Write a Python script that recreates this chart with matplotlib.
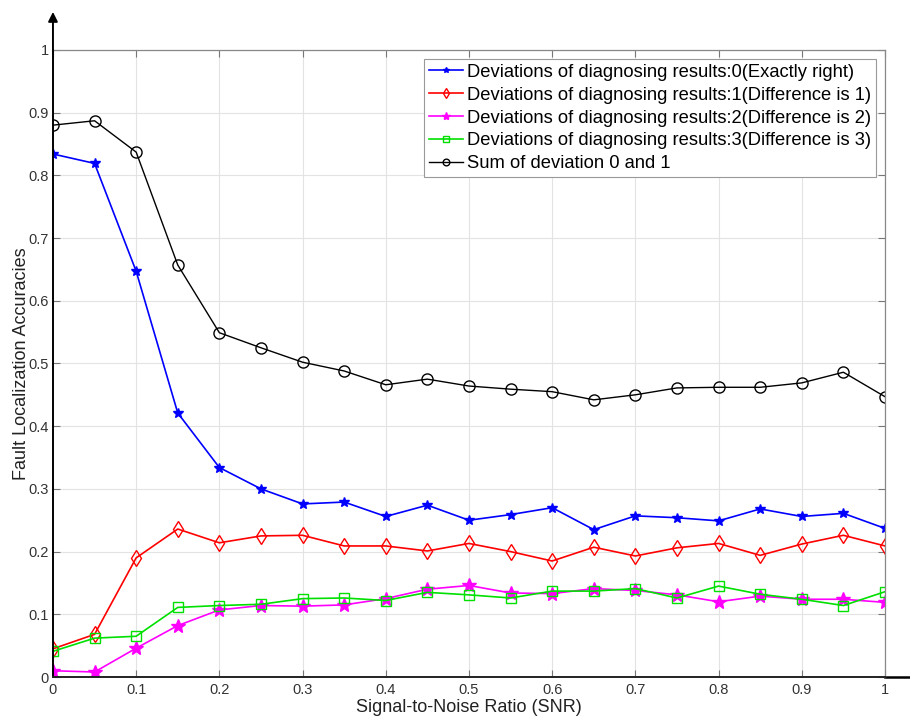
import matplotlib.pyplot as plt

plt.rcParams['font.family'] = ['Liberation Sans', 'DejaVu Sans']

snr = [0, 0.05, 0.1, 0.15, 0.2, 0.25, 0.3, 0.35, 0.4, 0.45, 0.5,
       0.55, 0.6, 0.65, 0.7, 0.75, 0.8, 0.85, 0.9, 0.95, 1.0]
dev0 = [0.834, 0.819, 0.647, 0.421, 0.334, 0.300, 0.276, 0.279, 0.256, 0.274, 0.250,
        0.259, 0.270, 0.235, 0.257, 0.254, 0.249, 0.268, 0.256, 0.261, 0.237]
dev1 = [0.045, 0.068, 0.190, 0.236, 0.214, 0.225, 0.226, 0.209, 0.209, 0.201, 0.213,
        0.200, 0.185, 0.207, 0.193, 0.206, 0.213, 0.194, 0.212, 0.226, 0.209]
dev2 = [0.010, 0.008, 0.046, 0.082, 0.107, 0.114, 0.113, 0.115, 0.125, 0.140, 0.146,
        0.134, 0.133, 0.141, 0.138, 0.131, 0.120, 0.129, 0.124, 0.124, 0.119]
dev3 = [0.041, 0.062, 0.065, 0.111, 0.114, 0.116, 0.125, 0.126, 0.122, 0.135, 0.131,
        0.126, 0.137, 0.137, 0.141, 0.126, 0.145, 0.132, 0.124, 0.114, 0.136]
sum01 = [0.880, 0.887, 0.837, 0.657, 0.549, 0.525, 0.502, 0.488, 0.466, 0.475, 0.464,
         0.459, 0.455, 0.442, 0.450, 0.461, 0.462, 0.462, 0.469, 0.486, 0.447]

labels = ["Deviations of diagnosing results:0(Exactly right)",
          "Deviations of diagnosing results:1(Difference is 1)",
          "Deviations of diagnosing results:2(Difference is 2)",
          "Deviations of diagnosing results:3(Difference is 3)",
          "Sum of deviation 0 and 1"]

fig = plt.figure(figsize=(9.1, 7.2), dpi=100)
ax = fig.add_axes([0.0582, 0.0597, 0.9143, 0.871])

ax.plot(snr, dev0, color="blue", marker="*", markersize=7, lw=1.2, label=labels[0])
ax.plot(snr, dev1, color="red", marker="d", markersize=8, mfc="none", lw=1.2, label=labels[1])
ax.plot(snr, dev2, color="magenta", marker="*", markersize=10, lw=1.2, label=labels[2])
ax.plot(snr, dev3, color="#00e000", marker="s", markersize=6.5, mfc="none", lw=1.2, label=labels[3])
ax.plot(snr, sum01, color="black", marker="o", markersize=8, mfc="none", lw=1.0, label=labels[4])

ax.set_xlim(0, 1)
ax.set_ylim(0, 1)
ax.set_xticks([i / 10 for i in range(11)])
ax.set_yticks([i / 10 for i in range(11)])
ax.set_xticklabels(["0"] + [f"{i/10:g}" for i in range(1, 10)] + ["1"])
ax.set_yticklabels(["0"] + [f"{i/10:g}" for i in range(1, 10)] + ["1"])
ax.grid(True, color="#e3e3e3", lw=0.8)
ax.set_axisbelow(True)
ax.tick_params(direction="in", length=5, colors="#777777", labelcolor="#333333",
               labelsize=10.5, top=True, right=True)
ax.tick_params(axis="x", pad=4)
ax.tick_params(axis="y", pad=3)

for side in ["top", "right"]:
    ax.spines[side].set_color("#888888")
    ax.spines[side].set_linewidth(0.9)
ax.spines["left"].set_color("black")
ax.spines["left"].set_linewidth(1.4)
ax.spines["bottom"].set_color("#222222")
ax.spines["bottom"].set_linewidth(1.4)

# arrow on y axis and extended x axis
ax.annotate("", xy=(0, 1.065), xytext=(0, 0.99), xycoords="axes fraction",
            arrowprops=dict(arrowstyle="-|>", color="black", lw=1.4, mutation_scale=14))
ax.plot([1, 1.04], [0, 0], transform=ax.transAxes, color="black", lw=1.8, clip_on=False)

ax.set_xlabel("Signal-to-Noise Ratio (SNR)", fontsize=13, color="#222222", labelpad=2)
ax.set_ylabel("Fault Localization Accuracies", fontsize=13, color="#222222", labelpad=-1)

leg = ax.legend(loc="upper right", bbox_to_anchor=(0.989, 0.985), fontsize=13.2,
                fancybox=False, edgecolor="#999999", framealpha=1, handlelength=1.9,
                handletextpad=0.2, borderpad=0.25, labelspacing=0.32, markerscale=0.6,
                borderaxespad=0)
leg.get_frame().set_linewidth(0.8)

fig.savefig("out.png", dpi=100)
